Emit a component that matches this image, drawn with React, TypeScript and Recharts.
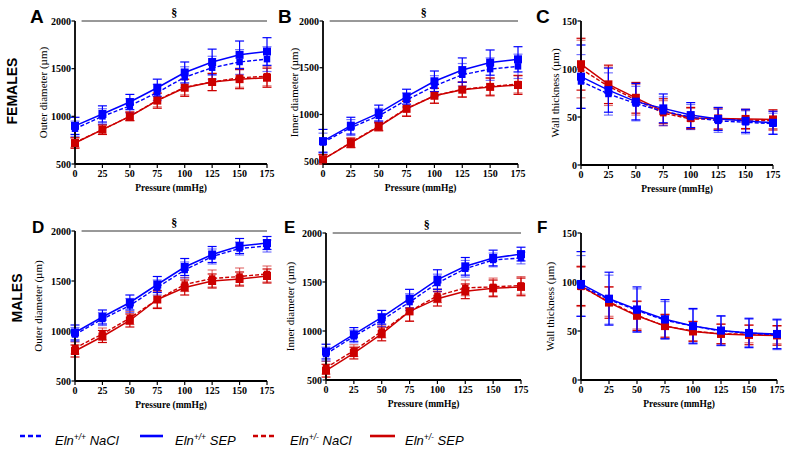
import React from "react"
import { LineChart, Line, XAxis, YAxis, ErrorBar, ReferenceLine } from "recharts"

const pressure = [0, 25, 50, 75, 100, 125, 150, 175]
const diameterTicks = [500, 1000, 1500, 2000]
const diameterMinor = [500, 600, 700, 800, 900, 1000, 1100, 1200, 1300, 1400, 1500, 1600, 1700, 1800, 1900, 2000]
const wallTicks = [0, 50, 100, 150]
const wallMinor = [0, 10, 20, 30, 40, 50, 60, 70, 80, 90, 100, 110, 120, 130, 140, 150]

// A - females, outer diameter
const femOuterWtNaCl = [870, 1000, 1110, 1250, 1410, 1510, 1570, 1600]
const femOuterWtNaClErr = [80, 80, 75, 85, 110, 120, 130, 130]
const femOuterWtSep = [900, 1025, 1150, 1300, 1460, 1570, 1645, 1680]
const femOuterWtSepErr = [90, 85, 80, 90, 110, 135, 145, 145]
const femOuterHetNaCl = [725, 860, 1000, 1170, 1305, 1360, 1405, 1420]
const femOuterHetNaClErr = [50, 50, 45, 70, 80, 90, 100, 100]
const femOuterHetSep = [720, 860, 1000, 1165, 1300, 1360, 1390, 1405]
const femOuterHetSepErr = [55, 50, 45, 80, 90, 90, 100, 100]

// B - females, inner diameter
const femInnerWtNaCl = [700, 860, 985, 1155, 1305, 1425, 1485, 1515]
const femInnerWtNaClErr = [100, 85, 80, 75, 110, 120, 120, 130]
const femInnerWtSep = [715, 880, 1015, 1190, 1355, 1475, 1555, 1590]
const femInnerWtSepErr = [125, 90, 85, 80, 110, 130, 135, 135]
const femInnerHetNaCl = [520, 700, 875, 1065, 1200, 1270, 1300, 1325]
const femInnerHetNaClErr = [50, 50, 45, 80, 80, 80, 90, 95]
const femInnerHetSep = [520, 695, 870, 1060, 1200, 1265, 1295, 1315]
const femInnerHetSepErr = [50, 50, 45, 80, 80, 80, 95, 100]

// C - females, wall thickness
const femWallWtNaCl = [87, 74, 64, 56, 50, 46, 44.5, 43]
const femWallWtNaClErr = [28, 22, 18, 15, 13, 12, 12, 11]
const femWallWtSep = [92, 78, 66, 59, 52, 48, 46, 44]
const femWallWtSepErr = [33, 23, 19, 15, 13, 12, 12, 12]
const femWallHetNaCl = [100, 82, 68, 54, 48, 47.5, 47, 46]
const femWallHetNaClErr = [30, 20, 16, 13, 11, 11, 10, 10]
const femWallHetSep = [105, 84, 70, 56, 49, 48.5, 48, 47.5]
const femWallHetSepErr = [27, 20, 16, 13, 11, 11, 10, 10]

// D - males, outer diameter
const maleOuterWtNaCl = [965, 1120, 1255, 1435, 1610, 1745, 1825, 1850]
const maleOuterWtNaClErr = [70, 65, 70, 75, 80, 75, 65, 60]
const maleOuterWtSep = [985, 1140, 1285, 1465, 1640, 1765, 1850, 1880]
const maleOuterWtSepErr = [75, 70, 75, 80, 85, 80, 75, 65]
const maleOuterHetNaCl = [830, 970, 1130, 1315, 1465, 1525, 1545, 1570]
const maleOuterHetNaClErr = [60, 60, 65, 80, 70, 85, 85, 80]
const maleOuterHetSep = [800, 945, 1105, 1315, 1435, 1500, 1520, 1550]
const maleOuterHetSepErr = [60, 60, 65, 90, 75, 70, 70, 70]

// E - males, inner diameter
const maleInnerWtNaCl = [765, 945, 1110, 1295, 1490, 1635, 1725, 1745]
const maleInnerWtNaClErr = [70, 65, 65, 85, 90, 85, 70, 60]
const maleInnerWtSep = [790, 965, 1140, 1330, 1525, 1660, 1745, 1785]
const maleInnerWtSepErr = [75, 70, 70, 95, 100, 90, 80, 70]
const maleInnerHetNaCl = [625, 800, 995, 1200, 1360, 1440, 1450, 1465]
const maleInnerHetNaClErr = [65, 60, 65, 100, 70, 80, 90, 90]
const maleInnerHetSep = [595, 775, 970, 1200, 1330, 1405, 1435, 1450]
const maleInnerHetSepErr = [65, 60, 70, 100, 75, 75, 85, 90]

// F - males, wall thickness
const maleWallWtNaCl = [96, 82, 71, 61, 55, 50, 48, 46]
const maleWallWtNaClErr = [31, 25, 22, 19, 17, 15, 14, 15]
const maleWallWtSep = [98, 83, 72, 62, 55, 50.5, 48, 47]
const maleWallWtSepErr = [33, 27, 23, 20, 18, 15, 15, 15]
const maleWallHetNaCl = [95, 80, 66, 55, 50, 47, 47, 46]
const maleWallHetNaClErr = [20, 15, 14, 11, 10, 10, 9, 9]
const maleWallHetSep = [96, 79, 65.5, 55, 49.5, 47, 46, 45.5]
const maleWallHetSepErr = [20, 16, 15, 12, 10, 10, 10, 10]

const BLUE = "#0000ff"
const RED = "#cc0000"
const SERIF = "'Liberation Serif', 'Times New Roman', serif"
const SANS = "'Liberation Sans', Arial, sans-serif"
const SECTION_START = 6

function buildRows(
  wtNaCl: number[], wtNaClErr: number[], wtSep: number[], wtSepErr: number[],
  hetNaCl: number[], hetNaClErr: number[], hetSep: number[], hetSepErr: number[]
) {
  return pressure.map((p, i) => ({
    pressure: p,
    wtNaCl: wtNaCl[i], wtNaClErr: wtNaClErr[i],
    wtSep: wtSep[i], wtSepErr: wtSepErr[i],
    hetNaCl: hetNaCl[i], hetNaClErr: hetNaClErr[i],
    hetSep: hetSep[i], hetSepErr: hetSepErr[i],
  }))
}

const square = (size: number, fill: string) => (props: any) => {
  const { cx, cy, index } = props
  if (cx == null || cy == null) return <g key={index} />
  return <rect key={index} x={cx - size / 2} y={cy - size / 2} width={size} height={size} fill={fill} />
}

interface PanelProps {
  left: number
  top: number
  width: number
  height: number
  margin: { top: number; right: number; left: number; bottom: number }
  rows: any[]
  wall?: boolean
  yLabel: string
  yLabelOffset: number
  section?: boolean
}

function Panel({ left, top, width, height, margin, rows, wall, yLabel, yLabelOffset, section }: PanelProps) {
  const domain = wall ? [0, 150] : [500, 2000]
  const tickStyle = { fontFamily: SERIF, fontSize: 10, fontWeight: "bold", fill: "#000" }
  return (
    <div style={{ position: "absolute", left, top }}>
      <LineChart width={width} height={height} data={rows} margin={margin}>
        <XAxis
          dataKey="pressure"
          type="number"
          domain={[0, 175]}
          ticks={pressure}
          interval={0}
          height={36}
          tickSize={4}
          tick={tickStyle}
          axisLine={{ stroke: "#000", strokeWidth: 1.8 }}
          tickLine={{ stroke: "#000", strokeWidth: 1.2 }}
          label={{ value: "Pressure (mmHg)", position: "insideBottom", offset: 9, fontFamily: SERIF, fontSize: 9.5, fontWeight: "bold", fill: "#000" }}
        />
        <YAxis
          yAxisId="minor"
          width={0}
          type="number"
          domain={domain}
          ticks={wall ? wallMinor : diameterMinor}
          interval={0}
          tick={false}
          axisLine={false}
          tickSize={2.5}
          tickLine={{ stroke: "#000", strokeWidth: 1 }}
        />
        <YAxis
          yAxisId="main"
          width={45}
          type="number"
          domain={domain}
          ticks={wall ? wallTicks : diameterTicks}
          interval={0}
          tickSize={3.5}
          tickMargin={0.5}
          tick={tickStyle}
          axisLine={{ stroke: "#000", strokeWidth: 1.8 }}
          tickLine={{ stroke: "#000", strokeWidth: 1.2 }}
          label={{ value: yLabel, angle: -90, position: "insideLeft", offset: yLabelOffset, fontFamily: SERIF, fontSize: 11, fill: "#000", style: { textAnchor: "middle" } }}
        />
        {section && (
          <ReferenceLine
            yAxisId="main"
            segment={[{ x: SECTION_START, y: 2000 }, { x: 175, y: 2000 }]}
            stroke="#333"
            strokeWidth={1}
            label={{ value: "§", position: "top", offset: 4, fontFamily: SERIF, fontSize: 12, fontWeight: "bold", fill: "#000" }}
          />
        )}
        <Line yAxisId="main" dataKey="hetNaCl" stroke={RED} strokeWidth={1.4} strokeDasharray="4 2" dot={square(6.5, RED)} activeDot={false} isAnimationActive={false}>
          <ErrorBar dataKey="hetNaClErr" direction="y" width={4.5} stroke={RED} strokeOpacity={0.55} strokeWidth={1.2} isAnimationActive={false} />
        </Line>
        <Line yAxisId="main" dataKey="hetSep" stroke={RED} strokeWidth={1.5} dot={square(8, RED)} activeDot={false} isAnimationActive={false}>
          <ErrorBar dataKey="hetSepErr" direction="y" width={4.5} stroke={RED} strokeWidth={1.2} isAnimationActive={false} />
        </Line>
        <Line yAxisId="main" dataKey="wtNaCl" stroke={BLUE} strokeWidth={1.4} strokeDasharray="4 2" dot={square(6.5, BLUE)} activeDot={false} isAnimationActive={false}>
          <ErrorBar dataKey="wtNaClErr" direction="y" width={4.5} stroke={BLUE} strokeOpacity={0.55} strokeWidth={1.2} isAnimationActive={false} />
        </Line>
        <Line yAxisId="main" dataKey="wtSep" stroke={BLUE} strokeWidth={1.5} dot={square(8, BLUE)} activeDot={false} isAnimationActive={false}>
          <ErrorBar dataKey="wtSepErr" direction="y" width={4.5} stroke={BLUE} strokeWidth={1.2} isAnimationActive={false} />
        </Line>
      </LineChart>
    </div>
  )
}

function LegendItem({ x, y, color, dashed, text, sup, lineStart, lineEnd }: any) {
  return (
    <g>
      <line x1={lineStart} x2={lineEnd} y1={y - 9} y2={y - 9} stroke={color} strokeWidth={2.6} strokeDasharray={dashed ? "5 3" : undefined} />
      <text x={x} y={y} fontFamily={SANS} fontStyle="italic" fontSize={13} fill="#000">
        Eln
        <tspan fontSize={8.5} dy={-5}>{sup}</tspan>
        <tspan dy={5}>{" " + text}</tspan>
      </text>
    </g>
  )
}

export default function App() {
  const femOuter = buildRows(femOuterWtNaCl, femOuterWtNaClErr, femOuterWtSep, femOuterWtSepErr, femOuterHetNaCl, femOuterHetNaClErr, femOuterHetSep, femOuterHetSepErr)
  const femInner = buildRows(femInnerWtNaCl, femInnerWtNaClErr, femInnerWtSep, femInnerWtSepErr, femInnerHetNaCl, femInnerHetNaClErr, femInnerHetSep, femInnerHetSepErr)
  const femWall = buildRows(femWallWtNaCl, femWallWtNaClErr, femWallWtSep, femWallWtSepErr, femWallHetNaCl, femWallHetNaClErr, femWallHetSep, femWallHetSepErr)
  const maleOuter = buildRows(maleOuterWtNaCl, maleOuterWtNaClErr, maleOuterWtSep, maleOuterWtSepErr, maleOuterHetNaCl, maleOuterHetNaClErr, maleOuterHetSep, maleOuterHetSepErr)
  const maleInner = buildRows(maleInnerWtNaCl, maleInnerWtNaClErr, maleInnerWtSep, maleInnerWtSepErr, maleInnerHetNaCl, maleInnerHetNaClErr, maleInnerHetSep, maleInnerHetSepErr)
  const maleWall = buildRows(maleWallWtNaCl, maleWallWtNaClErr, maleWallWtSep, maleWallWtSepErr, maleWallHetNaCl, maleWallHetNaClErr, maleWallHetSep, maleWallHetSepErr)

  return (
    <div style={{ position: "absolute", left: 0, top: 0, width: 790, height: 449, background: "#fff", overflow: "hidden" }}>
      <Panel left={0} top={0} width={280} height={200} margin={{ top: 21, right: 13, left: 30, bottom: 0 }} rows={femOuter} yLabel="Outer diameter (µm)" yLabelOffset={13} section />
      <Panel left={260} top={0} width={270} height={200} margin={{ top: 21, right: 12, left: 18, bottom: 0 }} rows={femInner} yLabel="Inner diameter (µm)" yLabelOffset={16} section />
      <Panel left={520} top={0} width={270} height={201} margin={{ top: 21, right: 17, left: 16, bottom: 0 }} rows={femWall} wall yLabel="Wall thickness (µm)" yLabelOffset={19} />
      <Panel left={0} top={200} width={280} height={217} margin={{ top: 31, right: 13, left: 30, bottom: 0 }} rows={maleOuter} yLabel="Outer diameter (µm)" yLabelOffset={8} section />
      <Panel left={260} top={200} width={270} height={216} margin={{ top: 33, right: 9, left: 21, bottom: 0 }} rows={maleInner} yLabel="Inner diameter (µm)" yLabelOffset={9} section />
      <Panel left={520} top={200} width={270} height={216} margin={{ top: 33, right: 13, left: 16, bottom: 0 }} rows={maleWall} wall yLabel="Wall thickness (µm)" yLabelOffset={14} />

      <svg width={790} height={449} style={{ position: "absolute", left: 0, top: 0, pointerEvents: "none" }}>
        <g fontFamily={SANS} fontWeight="bold" fill="#000">
          <text x={30} y={23} fontSize={19}>A</text>
          <text x={278} y={23} fontSize={19}>B</text>
          <text x={536} y={23} fontSize={19}>C</text>
          <text x={32} y={233} fontSize={17}>D</text>
          <text x={284} y={233} fontSize={17}>E</text>
          <text x={537} y={233} fontSize={17}>F</text>
          <text transform="translate(17,91) rotate(-90)" textAnchor="middle" fontSize={14}>FEMALES</text>
          <text transform="translate(22,298) rotate(-90)" textAnchor="middle" fontSize={14}>MALES</text>
        </g>
        <LegendItem x={55} y={445} color={BLUE} dashed sup="+/+" text="NaCl" lineStart={20} lineEnd={42} />
        <LegendItem x={175} y={445} color={BLUE} sup="+/+" text="SEP" lineStart={140} lineEnd={163} />
        <LegendItem x={290} y={445} color={RED} dashed sup="+/-" text="NaCl" lineStart={253} lineEnd={276} />
        <LegendItem x={405} y={445} color={RED} sup="+/-" text="SEP" lineStart={370} lineEnd={395} />
      </svg>
    </div>
  )
}
